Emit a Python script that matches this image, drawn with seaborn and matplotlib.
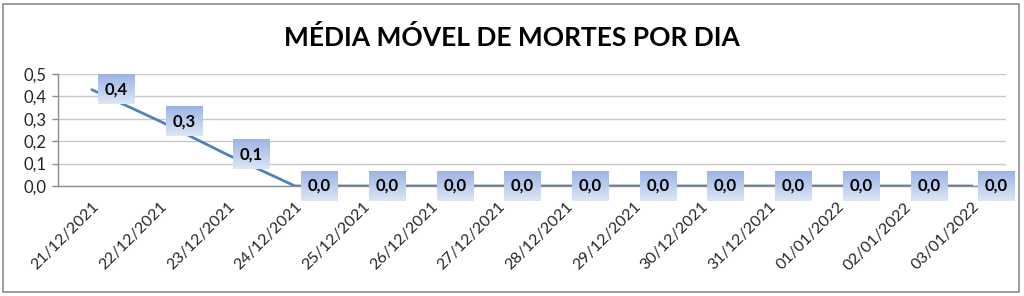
import matplotlib
matplotlib.use("Agg")
import matplotlib.pyplot as plt
import seaborn as sns
import pandas as pd
import numpy as np
from matplotlib.patches import Rectangle
from matplotlib.colors import LinearSegmentedColormap

dates = ["21/12/2021", "22/12/2021", "23/12/2021", "24/12/2021", "25/12/2021",
         "26/12/2021", "27/12/2021", "28/12/2021", "29/12/2021", "30/12/2021",
         "31/12/2021", "01/01/2022", "02/01/2022", "03/01/2022"]
values = [0.43, 0.29, 0.14, 0.0, 0.0, 0.0, 0.0, 0.0, 0.0, 0.0, 0.0, 0.0, 0.0, 0.0]
yticks = [0.0, 0.1, 0.2, 0.3, 0.4, 0.5]
title = "MÉDIA MÓVEL DE MORTES POR DIA"

sns.set_theme(style="white")
plt.rcParams["font.family"] = ["Lato", "DejaVu Sans"]

df = pd.DataFrame({"data": dates, "media": values})

fig = plt.figure(figsize=(10.24, 2.96), dpi=100)
fig.patch.set_facecolor("white")
fig.patches.append(Rectangle((3 / 1024, 4 / 296), 1016 / 1024, 288 / 296,
                             transform=fig.transFigure, fill=False,
                             edgecolor="#8c8c8c", linewidth=1.2))
ax = fig.add_axes([58 / 1024, 1 - 186 / 296, 948 / 1024, 112 / 296])

x = list(range(len(dates)))
sns.lineplot(x=x, y=df["media"], ax=ax, color="#4F81BD", linewidth=2.0, zorder=3)

ax.set_xlim(-0.5, len(dates) - 0.5)
ax.set_ylim(0, 0.5)
ax.set_yticks(yticks)
ax.set_yticklabels([f"{v:.1f}".replace(".", ",") for v in yticks], fontsize=12)
ax.yaxis.grid(True, color="#c8c8c8", linewidth=1.0)
ax.set_axisbelow(True)

ax.set_xticks(x)
ax.set_xticklabels(dates, rotation=45, ha="right", rotation_mode="anchor", fontsize=11.5)
ax.set_xticks([i - 0.5 for i in range(len(dates) + 1)], minor=True)
ax.tick_params(axis="x", which="major", length=0, pad=10)
ax.tick_params(axis="x", which="minor", length=4, color="#8c8c8c", width=1)
ax.tick_params(axis="y", which="major", length=4, color="#8c8c8c", width=1, left=True, pad=4)

for s in ["top", "right"]:
    ax.spines[s].set_visible(False)
for s in ["left", "bottom"]:
    ax.spines[s].set_color("#8c8c8c")
    ax.spines[s].set_linewidth(1.0)
ax.set_xlabel("")
ax.set_ylabel("")

anns = []
for xi, v in zip(x, values):
    a = ax.annotate(f"{v:.1f}".replace(".", ","), xy=(xi, v), xytext=(17.5, 0),
                    textcoords="offset points", ha="center", va="center",
                    fontsize=12, fontweight="bold", color="black", zorder=6,
                    bbox=dict(boxstyle="square,pad=0.4", facecolor="none",
                              edgecolor="none"),
                    annotation_clip=False)
    anns.append(a)

fig.text(0.5, 1 - 37 / 296, title, ha="center", va="center",
         fontsize=19, fontweight="bold", color="black")

# gradient fills for the data label boxes
fig.canvas.draw()
cmap = LinearSegmentedColormap.from_list("lbl", ["#DCE6F5", "#9CB4E4"])
grad = np.linspace(0, 1, 64).reshape(-1, 1)
inv = ax.transData.inverted()
xl, yl = ax.get_xlim(), ax.get_ylim()
for a in anns:
    bb = a.get_bbox_patch().get_window_extent()
    (x0, y0), (x1, y1) = inv.transform([(bb.x0, bb.y0), (bb.x1, bb.y1)])
    im = ax.imshow(grad, cmap=cmap, extent=(x0, x1, y0, y1), origin="lower",
                   aspect="auto", zorder=5, interpolation="bilinear")
    im.set_clip_on(False)
ax.set_xlim(xl)
ax.set_ylim(yl)

fig.savefig("out.png", dpi=100)
